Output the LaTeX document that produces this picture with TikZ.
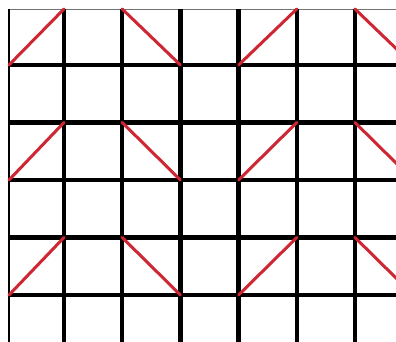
\documentclass[tikz,border=0pt]{standalone}
\usepackage{tikz}
\definecolor{diag}{RGB}{206,38,50}
\tikzset{
  gline/.style={draw=black,line width=4.5pt},
  rim/.style={draw=black!55,line width=.8pt},
  lrim/.style={draw=black,line width=2.6pt},
  dline/.style={draw=diag,line width=3pt,line cap=round}
}
\begin{document}
\begin{tikzpicture}[x=1pt,y=-1pt]
  \useasboundingbox (0,0) rectangle (396,342);
  \fill[white] (0,0) rectangle (396,342);
  \clip (0,0) rectangle (396,342);
  \draw[rim] (9,9) -- (396,9);
  \draw[lrim] (9,9) -- (9,342);
  \foreach \k in {0,...,5} {\draw[gline] ({64+58.2*\k},9) -- ({64+58.2*\k},342);}
  \foreach \k in {0,...,4} {\draw[gline] (9,{65+57.5*\k}) -- (396,{65+57.5*\k});}
  % red diagonals in every other row
  \foreach \ya/\yb in {9/65,122.5/180,237.5/295} {
    \draw[dline] (9,\yb) -- (64,\ya);
    \draw[dline] (122.2,\ya) -- (180.4,\yb);
    \draw[dline] (238.6,\yb) -- (296.8,\ya);
    \draw[dline] (355,\ya) -- (413.2,\yb);
  }
\end{tikzpicture}
\end{document}
